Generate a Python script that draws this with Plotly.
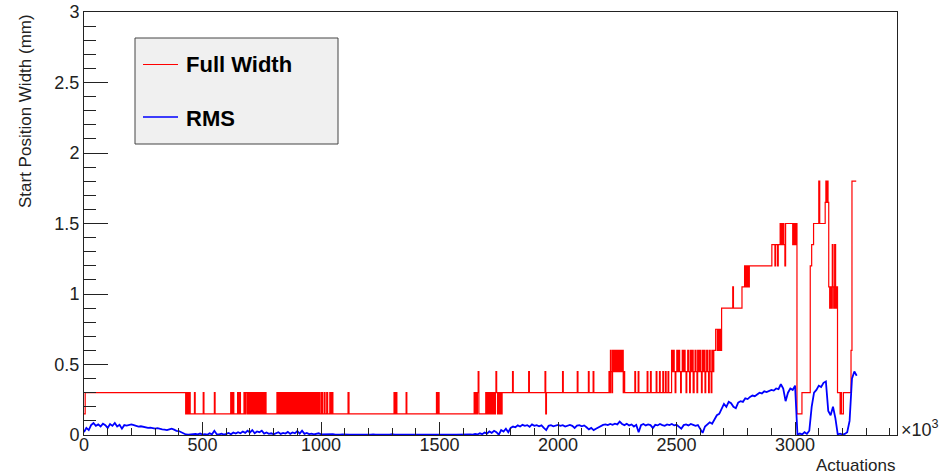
import plotly.graph_objects as go

# ---------------------------------------------------------------------------
# Full width of the start-position distribution: step changes (actuations/1000, mm)
# ---------------------------------------------------------------------------
fw_steps = [
    (0, 0.15), (5, 0.3),
    (429, 0.15), (432, 0.3), (435, 0.15), (438, 0.3), (441, 0.15), (444, 0.3), (448, 0.15),
    (466, 0.3), (469, 0.15), (503, 0.3), (506, 0.15), (550, 0.3), (553, 0.15),
    (619, 0.3), (623, 0.15), (628, 0.3), (632, 0.15), (648, 0.3), (651, 0.15), (656, 0.3), (660, 0.15),
    (675, 0.3), (680, 0.15), (684, 0.3), (690, 0.15), (693, 0.3), (697, 0.15), (701, 0.3), (705, 0.15),
    (708, 0.3), (712, 0.15), (716, 0.3), (721, 0.15), (724, 0.3), (728, 0.15), (732, 0.3), (736, 0.15),
    (740, 0.3), (744, 0.15), (747, 0.3), (752, 0.15), (755, 0.3), (760, 0.15), (763, 0.3), (768, 0.15),
    (814, 0.3), (818, 0.15), (821, 0.3), (826, 0.15), (829, 0.3), (833, 0.15), (836, 0.3), (840, 0.15),
    (843, 0.3), (848, 0.15), (851, 0.3), (855, 0.15), (858, 0.3), (863, 0.15), (866, 0.3), (870, 0.15),
    (873, 0.3), (878, 0.15), (881, 0.3), (885, 0.15), (889, 0.3), (893, 0.15), (896, 0.3), (901, 0.15),
    (904, 0.3), (908, 0.15), (912, 0.3), (916, 0.15), (920, 0.3), (925, 0.15), (928, 0.3), (932, 0.15),
    (936, 0.3), (941, 0.15), (944, 0.3), (949, 0.15), (953, 0.3), (958, 0.15), (962, 0.3), (967, 0.15),
    (971, 0.3), (976, 0.15), (981, 0.3), (986, 0.15), (991, 0.3), (996, 0.15), (1002, 0.3), (1006, 0.15),
    (1013, 0.3), (1017, 0.15), (1024, 0.3), (1028, 0.15), (1037, 0.3), (1041, 0.15), (1046, 0.3), (1050, 0.15),
    (1114, 0.3), (1118, 0.15), (1308, 0.3), (1311, 0.15), (1316, 0.3), (1320, 0.15), (1359, 0.3), (1362, 0.15),
    (1487, 0.3), (1490, 0.15), (1494, 0.3), (1498, 0.15),
    (1646, 0.3), (1650, 0.15), (1654, 0.3), (1657, 0.15), (1660, 0.3), (1663, 0.45), (1666, 0.15),
    (1695, 0.3), (1699, 0.15), (1704, 0.3), (1708, 0.15), (1712, 0.3), (1716, 0.15), (1720, 0.3), (1724, 0.15),
    (1728, 0.3), (1733, 0.15), (1736, 0.3), (1738, 0.45), (1741, 0.3), (1745, 0.15), (1748, 0.3), (1752, 0.15),
    (1756, 0.3), (1760, 0.15), (1764, 0.3),
    (1808, 0.45), (1811, 0.3), (1876, 0.45), (1879, 0.3), (1945, 0.45), (1948, 0.15), (1951, 0.3),
    (2019, 0.45), (2022, 0.3), (2081, 0.45), (2084, 0.3), (2128, 0.45), (2131, 0.3), (2148, 0.45), (2151, 0.3),
    (2215, 0.45), (2218, 0.3), (2221, 0.6), (2224, 0.45), (2227, 0.3), (2230, 0.6), (2234, 0.45), (2237, 0.6),
    (2241, 0.45), (2245, 0.6), (2250, 0.45), (2254, 0.6), (2258, 0.45), (2262, 0.6), (2266, 0.45), (2270, 0.6),
    (2275, 0.3), (2278, 0.45), (2281, 0.3),
    (2324, 0.45), (2327, 0.3), (2338, 0.45), (2341, 0.3), (2376, 0.45), (2379, 0.3), (2390, 0.45), (2393, 0.3),
    (2414, 0.45), (2417, 0.3), (2428, 0.45), (2431, 0.3), (2442, 0.45), (2445, 0.3), (2453, 0.45), (2456, 0.3),
    (2464, 0.45), (2467, 0.3),
    (2479, 0.6), (2483, 0.45), (2487, 0.6), (2490, 0.45), (2494, 0.3), (2497, 0.45), (2501, 0.6), (2505, 0.45),
    (2509, 0.6), (2513, 0.45), (2517, 0.3), (2520, 0.45), (2524, 0.6), (2528, 0.45), (2532, 0.6), (2536, 0.45),
    (2540, 0.3), (2543, 0.45), (2547, 0.6), (2551, 0.45), (2555, 0.3), (2558, 0.6), (2562, 0.45), (2566, 0.6),
    (2570, 0.3), (2574, 0.45), (2578, 0.6), (2582, 0.45), (2586, 0.3), (2589, 0.6), (2593, 0.45), (2597, 0.6),
    (2601, 0.45), (2605, 0.3), (2608, 0.6), (2612, 0.45), (2616, 0.6), (2620, 0.3), (2623, 0.45), (2627, 0.6),
    (2631, 0.45), (2635, 0.3), (2638, 0.6), (2642, 0.45), (2646, 0.3), (2649, 0.6), (2653, 0.45), (2657, 0.6),
    (2665, 0.75), (2672, 0.6), (2675, 0.75), (2679, 0.6), (2682, 0.75), (2686, 0.6), (2690, 0.9),
    (2737, 1.05), (2740, 0.9), (2776, 1.05), (2787, 1.2), (2790, 1.05), (2794, 1.2), (2797, 1.05),
    (2801, 1.2), (2804, 1.05), (2807, 1.2),
    (2902, 1.35), (2915, 1.2), (2918, 1.35), (2926, 1.2), (2929, 1.35), (2937, 1.5), (2940, 1.35),
    (2943, 1.5), (2946, 1.35), (2950, 1.5), (2953, 1.35), (2957, 1.2), (2960, 1.5),
    (2990, 1.35), (2993, 1.5), (2996, 1.35), (2999, 1.5), (3002, 1.35), (3005, 1.5), (3008, 0.15),
    (3029, 0.3), (3064, 1.2), (3070, 1.35), (3078, 1.5),
    (3100, 1.8), (3104, 1.5), (3127, 1.65), (3130, 1.8), (3133, 1.65), (3136, 1.8), (3139, 1.65),
    (3142, 1.05), (3146, 0.9), (3150, 1.05), (3153, 0.9), (3157, 1.35), (3160, 1.05), (3163, 0.9),
    (3167, 1.35), (3171, 0.9), (3175, 1.05), (3179, 0.3),
    (3190, 0.15), (3193, 0.3), (3196, 0.15), (3204, 0.3),
    (3236, 0.6), (3240, 1.8), (3258, 1.8),
]
fw_x = [p[0] for p in fw_steps]
fw_y = [p[1] for p in fw_steps]

# ---------------------------------------------------------------------------
# RMS of the start position, sampled every 10 (x10^3) actuations, in mm
# ---------------------------------------------------------------------------
RMS_STEP = 10
rms_y = [
    0.02, 0.05, 0.035, 0.07, 0.085, 0.065, 0.075, 0.06, 0.08, 0.07,          # 0
    0.05, 0.078, 0.065, 0.085, 0.06, 0.072, 0.045, 0.07, 0.066, 0.072,       # 100
    0.075, 0.07, 0.065, 0.06, 0.062, 0.058, 0.055, 0.05, 0.052, 0.047,       # 200
    0.045, 0.048, 0.042, 0.04, 0.038, 0.035, 0.04, 0.045, 0.038, 0.03,       # 300
    0.028, 0.02, 0.015, 0.004, 0.003, 0.005, 0.002, 0.008, 0.004, 0.01,      # 400
    0.003, 0.006, 0.002, 0.012, 0.005, 0.03, 0.006, 0.004, 0.01, 0.003,      # 500
    0.008, 0.015, 0.005, 0.018, 0.01, 0.02, 0.012, 0.025, 0.015, 0.03,       # 600
    0.018, 0.035, 0.012, 0.025, 0.02, 0.03, 0.01, 0.018, 0.008, 0.012,       # 700
    0.005, 0.01, 0.02, 0.008, 0.015, 0.01, 0.022, 0.008, 0.018, 0.012,       # 800
    0.028, 0.01, 0.03, 0.008, 0.015, 0.006, 0.01, 0.004, 0.008, 0.012,       # 900
    0.005, 0.006, 0.003, 0.008, 0.004, 0.006, 0.002, 0.005, 0.003, 0.004,    # 1000
    0.002, 0.005, 0.003, 0.002, 0.004, 0.002, 0.003, 0.002, 0.004, 0.002,    # 1100
    0.003, 0.002, 0.005, 0.002, 0.003, 0.002, 0.004, 0.002, 0.003, 0.002,    # 1200
    0.006, 0.002, 0.003, 0.002, 0.004, 0.002, 0.003, 0.002, 0.003, 0.002,    # 1300
    0.004, 0.002, 0.003, 0.002, 0.003, 0.002, 0.004, 0.002, 0.003, 0.002,    # 1400
    0.004, 0.002, 0.003, 0.002, 0.004, 0.002, 0.003, 0.002, 0.003, 0.002,    # 1500
    0.004, 0.002, 0.003, 0.005, 0.003, 0.008, 0.004, 0.012, 0.006, 0.018,    # 1600
    0.01, 0.025, 0.015, 0.03, 0.02, 0.002, 0.035, 0.025, 0.045, 0.02,        # 1700
    0.05, 0.06, 0.055, 0.068, 0.06, 0.072, 0.065, 0.07, 0.058, 0.075,        # 1800
    0.065, 0.07, 0.062, 0.068, 0.05, 0.035, 0.065, 0.07, 0.062, 0.068,       # 1900
    0.072, 0.065, 0.07, 0.06, 0.068, 0.072, 0.065, 0.05, 0.066, 0.07,        # 2000
    0.062, 0.068, 0.055, 0.04, 0.05, 0.035, 0.045, 0.055, 0.065, 0.072,      # 2100
    0.075, 0.07, 0.078, 0.072, 0.08, 0.075, 0.095, 0.078, 0.07, 0.08,        # 2200
    0.068, 0.075, 0.06, 0.072, 0.02, 0.07, 0.078, 0.068, 0.075, 0.07,        # 2300
    0.05, 0.072, 0.068, 0.078, 0.07, 0.065, 0.075, 0.07, 0.078, 0.068,       # 2400
    0.072, 0.06, 0.045, 0.07, 0.075, 0.068, 0.078, 0.072, 0.065, 0.07,       # 2500
    0.04, 0.015, 0.06, 0.075, 0.09, 0.08, 0.11, 0.14, 0.15, 0.19,            # 2600
    0.22, 0.2, 0.235, 0.225, 0.2, 0.19, 0.23, 0.24, 0.235, 0.26,             # 2700
    0.255, 0.27, 0.28, 0.275, 0.29, 0.3, 0.295, 0.31, 0.305, 0.31,           # 2800
    0.32, 0.315, 0.33, 0.325, 0.36, 0.33, 0.24, 0.3, 0.33, 0.32,             # 2900
    0.35, 0.003, 0.01, 0.004, 0.02, 0.008, 0.03, 0.2, 0.3, 0.32,             # 3000
    0.35, 0.34, 0.37, 0.38, 0.17, 0.14, 0.2, 0.12, 0.005, 0.01,              # 3100
    0.003, 0.008, 0.02, 0.1, 0.4, 0.45, 0.42,                                # 3200
]
rms_x = [i * RMS_STEP for i in range(len(rms_y))]

# axis ranges and tick labels
X_RANGE = [0, 3430]
Y_RANGE = [0, 3]
y_tickvals = [0, 0.5, 1, 1.5, 2, 2.5, 3]
y_ticktext = ["0", "0.5", "1", "1.5", "2", "2.5", "3"]
x_tickvals = [0, 500, 1000, 1500, 2000, 2500, 3000]
x_ticktext = ["0", "500", "1000", "1500", "2000", "2500", "3000"]

FONT = "Liberation Sans, Arial, sans-serif"
AXIS_COLOR = "#222222"
RED = "#ff0000"
BLUE = "#0000ff"

fig = go.Figure()
fig.add_trace(go.Scatter(
    x=fw_x, y=fw_y, mode="lines", name="Full Width",
    line=dict(color=RED, width=1.2, shape="hv"), showlegend=False,
))
fig.add_trace(go.Scatter(
    x=rms_x, y=rms_y, mode="lines", name="RMS",
    line=dict(color=BLUE, width=1.8), showlegend=False,
))

fig.update_xaxes(
    range=X_RANGE, tickvals=x_tickvals, ticktext=x_ticktext,
    ticks="inside", ticklen=13, tickwidth=1, tickcolor=AXIS_COLOR,
    minor=dict(dtick=100, tick0=0, ticks="inside", ticklen=7, tickwidth=1, tickcolor=AXIS_COLOR, showgrid=False),
    showline=True, linecolor=AXIS_COLOR, linewidth=1, mirror=True,
    showgrid=False, zeroline=False, automargin=False, ticklabelstandoff=-7,
    tickfont=dict(family=FONT, size=18, color=AXIS_COLOR),
)
fig.update_yaxes(
    range=Y_RANGE, tickvals=y_tickvals, ticktext=y_ticktext,
    ticks="inside", ticklen=24, tickwidth=1, tickcolor=AXIS_COLOR,
    minor=dict(dtick=0.1, tick0=0, ticks="inside", ticklen=12, tickwidth=1, tickcolor=AXIS_COLOR, showgrid=False),
    showline=True, linecolor=AXIS_COLOR, linewidth=1, mirror=True,
    showgrid=False, zeroline=False, automargin=False,
    tickfont=dict(family=FONT, size=18, color=AXIS_COLOR),
)

# plot-area geometry in pixels, used to place the legend box and titles
L, R, T, B = 84, 51, 12, 40
W, H = 948, 475
PW, PH = W - L - R, H - T - B


def px_x(px):
    return (px - L) / PW


def px_y(py):
    return (H - B - py) / PH


shapes = [
    dict(type="rect", xref="paper", yref="paper",
         x0=px_x(135), x1=px_x(338), y0=px_y(144), y1=px_y(38),
         fillcolor="#f0f0f0", line=dict(color="#444444", width=1), layer="above"),
    dict(type="line", xref="paper", yref="paper",
         x0=px_x(143), x1=px_x(178), y0=px_y(64.5), y1=px_y(64.5),
         line=dict(color=RED, width=1.2), layer="above"),
    dict(type="line", xref="paper", yref="paper",
         x0=px_x(143), x1=px_x(178), y0=px_y(117), y1=px_y(117),
         line=dict(color=BLUE, width=1.5), layer="above"),
]

annotations = [
    dict(text="<b>Full Width</b>", xref="paper", yref="paper", x=px_x(184), y=px_y(65),
         xanchor="left", yanchor="middle", showarrow=False,
         font=dict(family=FONT, size=22, color="#000000")),
    dict(text="<b>RMS</b>", xref="paper", yref="paper", x=px_x(184), y=px_y(118),
         xanchor="left", yanchor="middle", showarrow=False,
         font=dict(family=FONT, size=22, color="#000000")),
    dict(text="Start Position Width (mm)", xref="paper", yref="paper", x=px_x(25), y=1,
         xanchor="center", yanchor="top", textangle=-90, showarrow=False,
         font=dict(family=FONT, size=17, color=AXIS_COLOR)),
    dict(text="Actuations", xref="paper", yref="paper", x=1, y=px_y(465),
         xanchor="right", yanchor="middle", showarrow=False,
         font=dict(family=FONT, size=17, color=AXIS_COLOR)),
    dict(text="\u00d710<sup>3</sup>", xref="paper", yref="paper", x=px_x(899), y=px_y(428),
         xanchor="left", yanchor="middle", showarrow=False,
         font=dict(family=FONT, size=18, color=AXIS_COLOR)),
]

fig.update_layout(
    width=W, height=H,
    margin=dict(l=L, r=R, t=T, b=B, pad=0, autoexpand=False),
    paper_bgcolor="#ffffff", plot_bgcolor="#ffffff",
    shapes=shapes, annotations=annotations,
    showlegend=False,
)

fig.write_html("out.html", config={"displayModeBar": False})
